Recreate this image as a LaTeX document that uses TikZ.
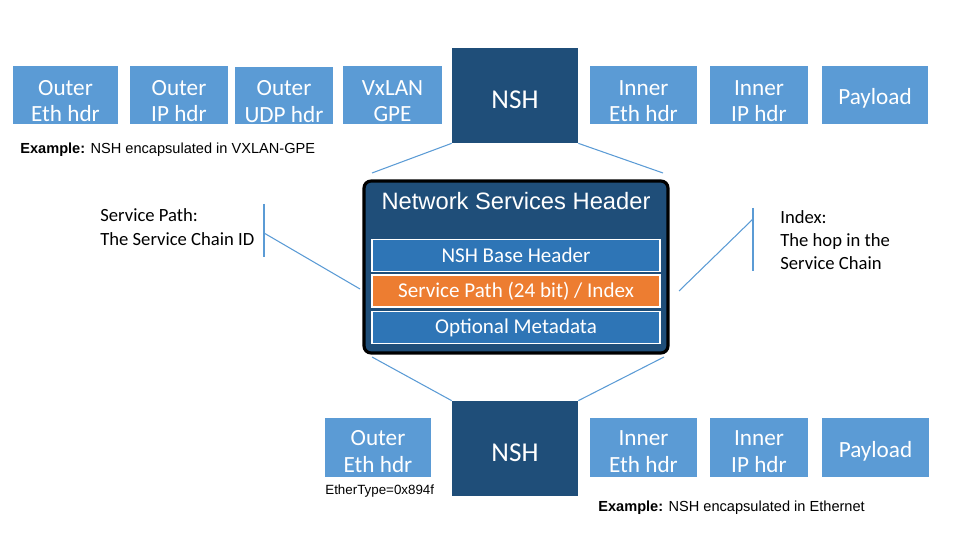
\documentclass[tikz,border=0pt]{standalone}
\usepackage{fontspec}
\newfontfamily\calibri{Carlito}
\newfontfamily\arial{Liberation Sans}
\definecolor{lightblue}{RGB}{91,155,213}
\definecolor{nshblue}{RGB}{31,78,121}
\definecolor{fieldblue}{RGB}{46,117,182}
\definecolor{pathorange}{RGB}{237,125,49}
\tikzset{
  hdr/.style={fill=lightblue, text=white, align=center, inner sep=0pt,
    minimum height=1.16cm, font=\calibri\fontsize{13.2}{15.3}\selectfont,
    execute at begin node={\rule{0pt}{#1}}},
  hdr/.default=30.8pt,
  nsh/.style={fill=nshblue, text=white, inner sep=0pt, minimum width=2.52cm,
    minimum height=1.9cm, font=\calibri\fontsize{15.5}{18}\selectfont,
    execute at begin node={\rule{0pt}{15pt}}},
  field/.style={draw=white, line width=0.7pt, text=white, inner sep=0pt,
    minimum width=5.76cm, minimum height=0.64cm, font=\calibri\fontsize{12}{14}\selectfont},
  link/.style={draw=lightblue, line width=0.6pt},
  note/.style={align=left, inner sep=0pt, font=\calibri\fontsize{10.6}{13.3}\selectfont},
  caption/.style={anchor=west, inner sep=0pt, font=\arial\fontsize{8.3}{10}\selectfont}
}
\begin{document}
\begin{tikzpicture}[x=0.02cm, y=-0.02cm]
    \useasboundingbox (0,0) rectangle (960,540);
    % upper packet: NSH in VXLAN-GPE
    \node[hdr, minimum width=2.1cm] (oeth) at (65.5,95) {Outer\\Eth hdr};
    \node[hdr, minimum width=1.96cm] (oip) at (179,95) {Outer\\IP hdr};
    \node[hdr, minimum width=1.96cm] (oudp) at (284,95.5) {Outer\\UDP hdr};
    \node[hdr, minimum width=1.98cm] (vxlan) at (392.5,95) {VxLAN\\GPE};
    \node[nsh] (nshtop) at (515,95.5) {NSH};
    \node[hdr, minimum width=2.14cm] (ieth) at (643.5,95) {Inner\\Eth hdr};
    \node[hdr, minimum width=1.96cm] (iip) at (759,95) {Inner\\IP hdr};
    \node[hdr=13.3pt, minimum width=2.12cm] (pay) at (875,95) {Payload};
    \node[caption] (capvx) at (20,150) {\textbf{Example:} NSH encapsulated in VXLAN-GPE};

    % the header itself
    \node[draw=black, line width=1.8pt, rounded corners=4pt, fill=nshblue,
      minimum width=6.08cm, minimum height=3.44cm] (hdrbox) at (516,267) {};
    \node[text=white, font=\arial\fontsize{13.5}{16}\selectfont] (title) at (516,201) {Network Services Header};
    \node[field, fill=fieldblue] (base) at (516,255.5) {NSH Base Header};
    \node[field, fill=pathorange] (spath) at (516,291) {Service Path (24 bit) / Index};
    \node[field, fill=fieldblue] (meta) at (516,327.5) {Optional Metadata};

    % notes
    \node[note, anchor=west] (spnote) at (100,227) {Service Path:\\The Service Chain ID};
    \node[note, anchor=west] (idxnote) at (780,240) {Index:\\The hop in the\\Service Chain};

    % lower packet: NSH in Ethernet
    \node[hdr=28.6pt, minimum width=2.12cm, minimum height=1.18cm] (beth) at (378,447.5) {Outer\\Eth hdr};
    \node[nsh] (nshbot) at (515,448.5) {NSH};
    \node[hdr=28.6pt, minimum width=2.14cm, minimum height=1.18cm] (bieth) at (643.5,447.5) {Inner\\Eth hdr};
    \node[hdr=28.6pt, minimum width=1.96cm, minimum height=1.18cm] (biip) at (759,447.5) {Inner\\IP hdr};
    \node[hdr=13.3pt, minimum width=2.14cm, minimum height=1.18cm] (bpay) at (875.5,447.5) {Payload};
    \node[caption, font=\arial\fontsize{7.6}{9}\selectfont] (ethtype) at (325,491) {EtherType=0x894f};
    \node[caption] (capeth) at (598,508) {\textbf{Example:} NSH encapsulated in Ethernet};

    % coordinates for the free line ends
    \coordinate (tl) at (372,173);
    \coordinate (tr) at (663,173);
    \coordinate (bl) at (372,357);
    \coordinate (br) at (664,357);
    \coordinate (sptop) at (264,204);
    \coordinate (spbot) at (264,257);
    \coordinate (spmid) at (264,233);
    \coordinate (spend) at (360,289);
    \coordinate (ixtop) at (753,208);
    \coordinate (ixbot) at (753,271);
    \coordinate (ixmid) at (753,219);
    \coordinate (ixend) at (679,291);

    % connectors
    \draw[link] (nshtop.south west) -- (tl);
    \draw[link] (nshtop.south east) -- (tr);
    \draw[link] (bl) -- (nshbot.north west);
    \draw[link] (br) -- (nshbot.north east);
    \draw[link] (sptop) -- (spbot);
    \draw[link] (spmid) -- (spend);
    \draw[link] (ixtop) -- (ixbot);
    \draw[link] (ixmid) -- (ixend);
\end{tikzpicture}
\end{document}
